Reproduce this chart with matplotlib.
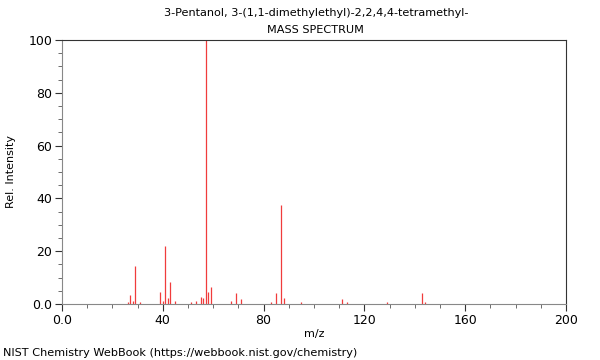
import matplotlib
matplotlib.use("Agg")
import matplotlib.pyplot as plt
from matplotlib.ticker import MultipleLocator, FixedLocator, FixedFormatter

title_line1 = "3-Pentanol, 3-(1,1-dimethylethyl)-2,2,4,4-tetramethyl-"
title_line2 = "MASS SPECTRUM"
mz = [26, 27, 28, 29, 31, 39, 40, 41, 42, 43, 45, 51, 53, 55, 56, 57, 58, 59,
      67, 69, 71, 83, 85, 87, 88, 95, 111, 113, 129, 143, 144]
intensity = [0.6, 3.4, 1.3, 14.5, 0.7, 4.5, 1.3, 22.0, 2.1, 8.5, 1.1, 0.6, 1.3,
             2.6, 2.3, 100.0, 4.5, 6.3, 1.1, 4.0, 1.8, 0.8, 4.0, 37.5, 2.3,
             0.6, 1.8, 0.6, 0.8, 4.3, 0.7]
x_ticks = [0, 40, 80, 120, 160, 200]
x_tick_labels = ["0.0", "40", "80", "120", "160", "200"]
y_ticks = [0, 20, 40, 60, 80, 100]
y_tick_labels = ["0.0", "20", "40", "60", "80", "100"]

fig = plt.figure(figsize=(6, 3.6), dpi=100)
ax = fig.add_axes([62/600, 56/360, 504/600, 264/360])
ax.vlines(mz, 0, intensity, colors="#f03c3c", linewidth=0.9)
ax.set_xlim(0, 200)
ax.set_ylim(0, 100)
ax.xaxis.set_major_locator(FixedLocator(x_ticks))
ax.xaxis.set_major_formatter(FixedFormatter(x_tick_labels))
ax.yaxis.set_major_locator(FixedLocator(y_ticks))
ax.yaxis.set_major_formatter(FixedFormatter(y_tick_labels))
ax.xaxis.set_minor_locator(MultipleLocator(10))
ax.yaxis.set_minor_locator(MultipleLocator(5))
ax.tick_params(axis="both", which="major", length=5, width=0.8, color="#333333",
               labelsize=9, pad=2)
ax.tick_params(axis="both", which="minor", length=3, width=0.6, color="#555555")
for s in ax.spines.values():
    s.set_linewidth(0.8)
    s.set_color("#333333")
ax.spines["left"].set_color("#888888")
ax.spines["bottom"].set_color("#888888")
ax.set_xlabel("m/z", fontsize=8, labelpad=2)
ax.set_ylabel("Rel. Intensity", fontsize=8, labelpad=9)
fig.text(0.527, 1 - 13/360, title_line1, ha="center", va="center", fontsize=8.1)
fig.text(0.525, 1 - 30/360, title_line2, ha="center", va="center", fontsize=8.1)
fig.text(3/600, 1 - 353/360, "NIST Chemistry WebBook (https://webbook.nist.gov/chemistry)",
         ha="left", va="center", fontsize=8.1)
fig.savefig("out.png", dpi=100)
